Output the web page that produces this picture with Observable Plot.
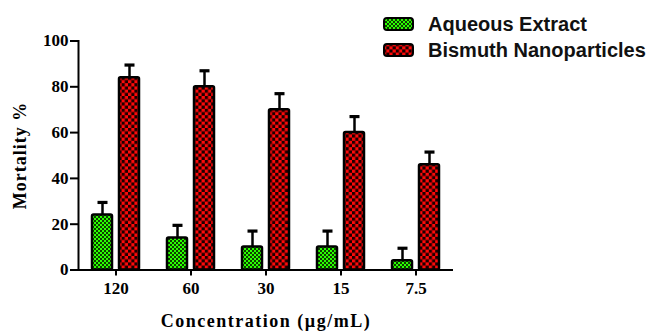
<!DOCTYPE html>
<html>
<head>
<meta charset="utf-8">
<script src="https://cdn.jsdelivr.net/npm/d3@7"></script>
<script src="https://cdn.jsdelivr.net/npm/@observablehq/plot@0.6"></script>
<style>
  html, body { margin: 0; padding: 0; background: #fff; }
  #wrap { position: relative; width: 651px; height: 332px; overflow: hidden; }
  #legend { position: absolute; left: 383px; top: 11px; font-family: "Liberation Sans", Arial, sans-serif; font-weight: bold; font-size: 20px; color: #111; }
  .item { display: flex; align-items: center; height: 26px; }
  .item svg { margin-right: 14px; }
</style>
</head>
<body>
<svg width="0" height="0" style="position:absolute">
  <defs>
    <pattern id="pat-green" width="4" height="4" patternUnits="userSpaceOnUse">
      <rect width="4" height="4" fill="#0c3f00"></rect>
      <rect x="0" y="0" width="2" height="2" fill="#2bff00"></rect>
      <rect x="2" y="2" width="2" height="2" fill="#2bff00"></rect>
    </pattern>
    <pattern id="pat-red" width="6.4" height="6.4" patternUnits="userSpaceOnUse">
      <rect width="6.4" height="6.4" fill="#ff0a0a"></rect>
      <rect x="0" y="0" width="3.2" height="3.2" fill="#1a0000"></rect>
      <rect x="3.2" y="3.2" width="3.2" height="3.2" fill="#1a0000"></rect>
    </pattern>
  </defs>
</svg>
<div id="wrap">
  <div id="legend">
    <div class="item"><svg width="31" height="14"><rect x="1" y="1" width="29" height="12" rx="3" fill="url(#pat-green)" stroke="#000" stroke-width="2"></rect></svg>Aqueous Extract</div>
    <div class="item"><svg width="31" height="14"><rect x="1" y="1" width="29" height="12" rx="3" fill="url(#pat-red)" stroke="#000" stroke-width="2"></rect></svg>Bismuth Nanoparticles</div>
  </div>
</div>
<script>
// Mortality (%) at each concentration, mean with upper error
const concentrations = ["120", "60", "30", "15", "7.5"];
const aqueousMortality = [24, 14, 10, 10, 4];
const aqueousError = [5.5, 5.5, 7, 7, 5.5];
const bismuthMortality = [84, 80, 70, 60, 46];
const bismuthError = [5.5, 7, 7, 7, 5.5];
const yTicks = [0, 20, 40, 60, 80, 100];

const aqueous = concentrations.map((c, i) => ({conc: c, value: aqueousMortality[i], err: aqueousError[i]}));
const bismuth = concentrations.map((c, i) => ({conc: c, value: bismuthMortality[i], err: bismuthError[i]}));

// horizontal cap for the error bars
const cap = {
  draw(context, size) {
    const r = Math.sqrt(size / Math.PI);
    context.moveTo(-r, 0);
    context.lineTo(r, 0);
  }
};

const barStyle = {stroke: "#000", strokeWidth: 2.5, strokeLinejoin: "round"};

function series(data, fill, insetLeft, insetRight, dx) {
  return [
    Plot.ruleX(data, {x: "conc", y1: "value", y2: d => d.value + d.err, dx, stroke: "#000", strokeWidth: 2.5}),
    Plot.dot(data, {x: "conc", y: d => d.value + d.err, dx, symbol: cap, r: 5, fill: "none", stroke: "#000", strokeWidth: 3.2}),
    Plot.barY(data, {x: "conc", y: "value", fill, insetLeft, insetRight, rx: 1.5, ...barStyle})
  ];
}

const chart = Plot.plot({
  width: 651,
  height: 332,
  marginLeft: 78,
  marginRight: 198,
  marginTop: 40.5,
  marginBottom: 62.5,
  style: {fontFamily: "Liberation Serif, Times New Roman, serif", fontWeight: "bold", fontSize: "17px", color: "#000", background: "transparent"},
  x: {domain: concentrations, padding: 0},
  y: {domain: [0, 100]},
  marks: [
    ...series(aqueous, "url(#pat-green)", 14, 41, -13.5),
    ...series(bismuth, "url(#pat-red)", 41, 14, 13.5),
    Plot.ruleY([0], {stroke: "#000", strokeWidth: 2}),
    Plot.frame({anchor: "left", stroke: "#000", strokeWidth: 2}),
    Plot.axisY({ticks: yTicks, tickSize: 8, tickPadding: 2, strokeWidth: 2, label: "Mortality %", labelArrow: "none", labelAnchor: "center", labelOffset: 65}),
    Plot.axisX({tickSize: 6, tickPadding: 6, strokeWidth: 2, label: "Concentration (µg/mL)", labelArrow: "none", labelAnchor: "center", labelOffset: 57})
  ]
});

document.getElementById("wrap").prepend(chart);
// bold serif tick labels and letter-spaced titles
chart.querySelectorAll('[aria-label$="tick label"]').forEach(g => g.setAttribute("font-size", "17"));
chart.querySelectorAll('[aria-label="y-axis label"]').forEach(g => {
  g.setAttribute("font-size", "18");
  g.style.letterSpacing = "1px";
});
chart.querySelectorAll('[aria-label="x-axis label"]').forEach(g => {
  g.setAttribute("font-size", "18");
  g.style.letterSpacing = "1.5px";
});
</script>
</body>
</html>
